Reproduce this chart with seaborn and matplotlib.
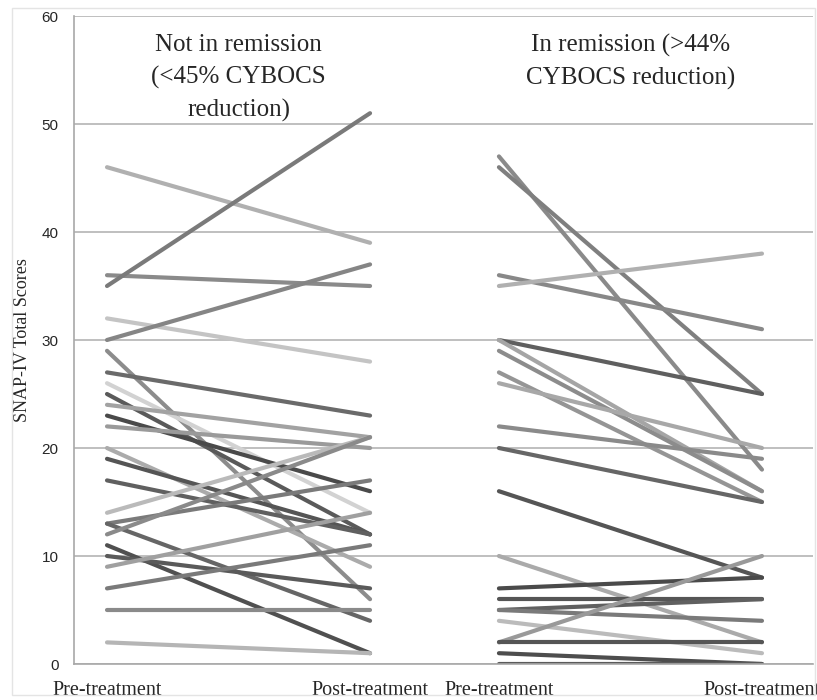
import numpy as np
import pandas as pd
import seaborn as sns
import matplotlib.pyplot as plt
from matplotlib.patches import Rectangle

# not in remission (<45% CYBOCS reduction)
nr_pre = [46, 36, 35, 32, 30, 29, 27, 26, 25, 24, 23, 22, 20, 19, 17, 14, 13, 13, 12, 11, 10, 9, 7, 5, 2]
nr_post = [39, 35, 51, 28, 37, 6, 23, 14, 12, 21, 16, 20, 9, 12, 12, 21, 17, 4, 21, 1, 7, 14, 11, 5, 1]
nr_grey = ['#b0b0b0', '#8a8a8a', '#7a7a7a', '#c4c4c4', '#858585', '#8c8c8c', '#6a6a6a', '#d2d2d2',
           '#5a5a5a', '#a2a2a2', '#4a4a4a', '#9a9a9a', '#ababab', '#555555', '#606060', '#bababa',
           '#7a7a7a', '#666666', '#8a8a8a', '#505050', '#5a5a5a', '#a0a0a0', '#7a7a7a', '#8a8a8a', '#b5b5b5']

# in remission (>44% CYBOCS reduction)
r_pre = [47, 46, 36, 35, 30, 30, 29, 27, 26, 22, 20, 16, 10, 7, 6, 5, 5, 4, 2, 2, 1, 0]
r_post = [18, 25, 31, 38, 25, 16, 16, 15, 20, 19, 15, 8, 2, 8, 6, 6, 4, 1, 10, 2, 0, 0]
r_grey = ['#8a8a8a', '#7f7f7f', '#888888', '#b0b0b0', '#5f5f5f', '#a5a5a5', '#8c8c8c', '#959595',
          '#a8a8a8', '#8a8a8a', '#666666', '#555555', '#aaaaaa', '#4a4a4a', '#555555', '#606060',
          '#7a7a7a', '#bbbbbb', '#999999', '#555555', '#4d4d4d', '#5a5a5a']

phases = ['Pre-treatment', 'Post-treatment']
titles = ['Not in remission\n(<45% CYBOCS\nreduction)', 'In remission (>44%\nCYBOCS reduction)']

# long table: one row per subject and phase
rows = []
groups = [(nr_pre, nr_post, nr_grey), (r_pre, r_post, r_grey)]
offset = [0, 1.49]
for g, (pre, post, grey) in enumerate(groups):
    for i in range(len(pre)):
        sid = f'g{g}_{i}'
        rows.append([sid, offset[g] + 0, pre[i], grey[i]])
        rows.append([sid, offset[g] + 1, post[i], grey[i]])
df = pd.DataFrame(rows, columns=['sid', 'x', 'score', 'grey'])
pal = dict(zip(df['sid'], df['grey']))

sns.set_style('white')
plt.rcParams['font.family'] = ['Liberation Serif', 'DejaVu Serif']

fig = plt.figure(figsize=(8.17, 7.0), dpi=100)
ax = fig.add_axes([74 / 817, 36 / 700, 739 / 817, 648 / 700])
fig.patches.append(Rectangle((12 / 817, 5 / 700), 803 / 817, 687 / 700, transform=fig.transFigure,
                             fill=False, edgecolor='#e4e4e4', lw=1))

sns.lineplot(data=df, x='x', y='score', hue='sid', palette=pal, units='sid', estimator=None,
             lw=3, legend=False, ax=ax, solid_capstyle='round')

ax.set_xlim(-0.1255, 2.684)
ax.set_ylim(0, 60)
ax.set_yticks(range(0, 61, 10))
ax.yaxis.grid(True, color='#b4b4b4', lw=1.2)
ax.set_axisbelow(True)
for s in ['top', 'right']:
    ax.spines[s].set_visible(False)
ax.spines['left'].set_color('#a8a8a8')
ax.spines['bottom'].set_color('#a8a8a8')
ax.spines['left'].set_linewidth(1.2)
ax.spines['bottom'].set_linewidth(1.2)
ax.tick_params(axis='y', length=6, color='#a8a8a8', width=1.2, pad=5)
for t in ax.get_yticklabels():
    t.set_fontfamily('Liberation Sans')
    t.set_fontsize(11)

ax.set_xticks([0, 1, offset[1], offset[1] + 1])
ax.set_xticklabels(phases * 2, fontsize=14.5)
ax.tick_params(axis='x', length=0, pad=12)
ax.set_xlabel('')
ax.set_ylabel('SNAP-IV Total Scores', fontsize=13, labelpad=8)

for g in range(2):
    ax.text(offset[g] + 0.5, 58.3, titles[g], ha='center', va='top', fontsize=18, linespacing=1.55)

fig.savefig('out.png', dpi=100)
